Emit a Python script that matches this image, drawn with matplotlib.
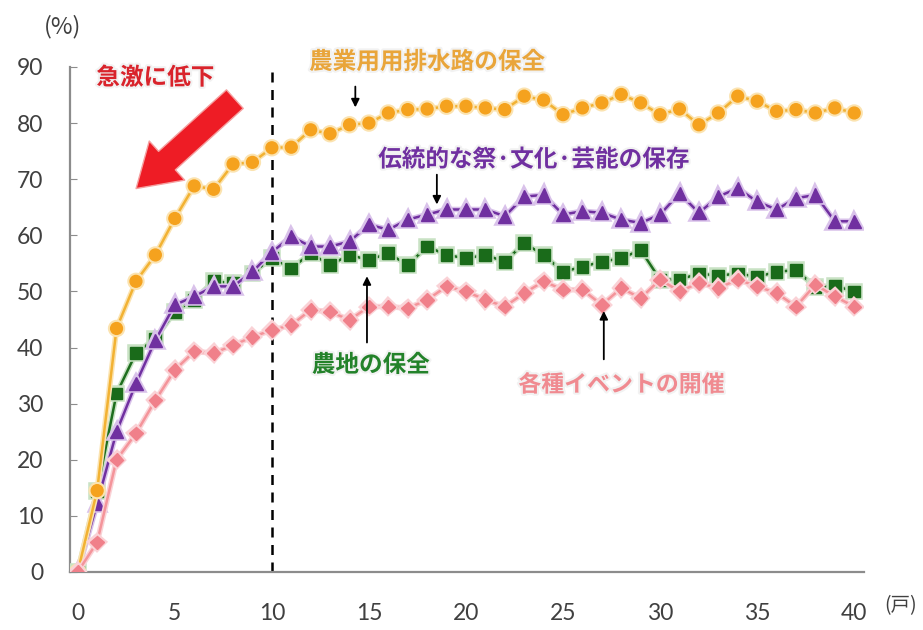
import matplotlib
matplotlib.use("Agg")
import matplotlib.pyplot as plt
import matplotlib.patheffects as pe

plt.rcParams['font.family'] = ['Noto Sans CJK JP', 'DejaVu Sans']

# number of households (x) and share of communities doing each activity (%)
households = list(range(0, 41))

water_channels = [0, 14.5, 43.4, 51.8, 56.5, 63.0, 68.8, 68.2, 72.7, 73.0,
                  75.6, 75.7, 78.8, 78.1, 79.7, 80.0, 81.8, 82.4, 82.5, 83.0,
                  83.0, 82.7, 82.4, 84.8, 84.1, 81.5, 82.7, 83.6, 85.1, 83.6,
                  81.5, 82.5, 79.7, 81.8, 84.8, 83.9, 82.1, 82.4, 81.8, 82.7,
                  81.8]

festivals = [0, 12.2, 25.0, 33.6, 41.3, 47.6, 49.1, 50.9, 50.9, 53.5,
             57.0, 59.8, 58.0, 58.0, 58.9, 61.9, 61.0, 62.8, 63.7, 64.6,
             64.6, 64.6, 63.4, 66.9, 67.2, 63.7, 64.3, 64.0, 62.8, 62.2,
             63.7, 67.5, 64.0, 66.9, 68.4, 66.0, 64.6, 66.6, 67.2, 62.5,
             62.5]

farmland = [0, 14.5, 31.8, 39.0, 41.6, 46.4, 48.5, 51.8, 51.5, 53.2,
            56.0, 54.1, 56.8, 54.7, 56.5, 55.6, 56.8, 54.7, 58.0, 56.5,
            55.9, 56.5, 55.3, 58.6, 56.5, 53.5, 54.4, 55.3, 55.9, 57.4,
            52.1, 52.1, 53.2, 52.8, 53.2, 52.6, 53.5, 53.8, 50.8, 51.0,
            50.0]

events = [0, 5.3, 20.0, 24.7, 30.6, 36.0, 39.3, 39.0, 40.4, 41.9,
          43.1, 44.0, 46.7, 46.4, 44.9, 47.3, 47.3, 47.0, 48.5, 50.9,
          50.0, 48.5, 47.3, 49.7, 51.8, 50.3, 50.3, 47.6, 50.6, 48.8,
          52.1, 50.0, 51.5, 50.6, 52.1, 50.9, 49.7, 47.3, 51.2, 49.1,
          47.3]

x_ticks = [0, 5, 10, 15, 20, 25, 30, 35, 40]
y_ticks = [0, 10, 20, 30, 40, 50, 60, 70, 80, 90]

fig = plt.figure(figsize=(9.23, 6.3), dpi=100)
ax = fig.add_axes([0.0758, 0.0921, 0.8602, 0.8016])

# drawing order: green below purple, pink on top
series = [
    (farmland, '#1E6E1E', '#1A6B1A', 's', 8.5, '#C9E2C4'),
    (festivals, '#7030A0', '#7030A0', '^', 9.5, '#D9C2EA'),
    (water_channels, '#F2B233', '#F5A21E', 'o', 8.5, '#FBE3B0'),
    (events, '#F4949A', '#F0808A', 'D', 6.8, '#FAD2D6'),
]
for vals, lc, mc, mk, ms, glow in series:
    ax.plot(households, vals, color=lc, lw=1.8, marker=mk, ms=ms,
            mfc=mc, mec=mc, zorder=3,
            path_effects=[pe.Stroke(linewidth=4, foreground=glow), pe.Normal()])

ax.axvline(10, color='black', lw=1.8, ls=(0, (4, 3)), zorder=2)

ax.set_xlim(-0.4, 40.5)
ax.set_ylim(0, 90)
ax.set_xticks(x_ticks)
ax.set_yticks(y_ticks)
for s in ['top', 'right']:
    ax.spines[s].set_visible(False)
for s in ['left', 'bottom']:
    ax.spines[s].set_color('#8C8C8C')
    ax.spines[s].set_linewidth(1.6)
ax.tick_params(axis='y', direction='in', length=5, color='#8C8C8C', pad=19,
               labelsize=16.5, labelcolor='#404040')
ax.tick_params(axis='x', length=0, pad=22, labelsize=16.5, labelcolor='#404040')
for lab in ax.get_xticklabels() + ax.get_yticklabels():
    lab.set_family(['Lato', 'DejaVu Sans'])

ax.text(-0.8, 97.2, '(%)', fontsize=17, color='#404040', ha='center', va='center',
        clip_on=False)
ax.text(42.4, -6.0, '(戸)', fontsize=14, color='#404040', ha='center', va='center',
        clip_on=False)

glow_txt = [pe.withStroke(linewidth=3, foreground='#F2F2F2')]

ax.text(4.0, 88.1, '急激に低下', fontsize=17, fontweight='bold', color='#D9232B',
        ha='center', va='center', path_effects=glow_txt, clip_on=False)
ax.annotate('', xy=(2.9, 68.0), xytext=(8.2, 84.6),
            arrowprops=dict(arrowstyle='simple,head_width=1.9,head_length=1.5,tail_width=0.9',
                            mutation_scale=20, fc='#EE1C25', ec='#F5A0A0', lw=1))

ax.text(18.0, 90.9, '農業用用排水路の保全', fontsize=17, fontweight='bold',
        color='#E9A53A', ha='center', va='center', path_effects=glow_txt, clip_on=False)
ax.annotate('', xy=(14.3, 82.3), xytext=(14.3, 87.0),
            arrowprops=dict(arrowstyle='-|>', color='black', lw=1.3, mutation_scale=12))

ax.text(23.5, 73.5, '伝統的な祭·文化·芸能の保存', fontsize=17, fontweight='bold',
        color='#7030A0', ha='center', va='center', path_effects=glow_txt)
ax.annotate('', xy=(18.5, 65.0), xytext=(18.5, 71.3),
            arrowprops=dict(arrowstyle='-|>', color='black', lw=1.3, mutation_scale=12))

ax.text(15.1, 36.9, '農地の保全', fontsize=17, fontweight='bold',
        color='#23822A', ha='center', va='center', path_effects=glow_txt)
ax.annotate('', xy=(14.9, 53.2), xytext=(14.9, 40.4),
            arrowprops=dict(arrowstyle='-|>', color='black', lw=1.3, mutation_scale=12))

ax.text(28.0, 33.3, '各種イベントの開催', fontsize=16.5, fontweight='bold',
        color='#F08A90', ha='center', va='center', path_effects=glow_txt)
ax.annotate('', xy=(27.1, 47.0), xytext=(27.1, 37.4),
            arrowprops=dict(arrowstyle='-|>', color='black', lw=1.3, mutation_scale=12))

fig.savefig('out.png', dpi=100)
